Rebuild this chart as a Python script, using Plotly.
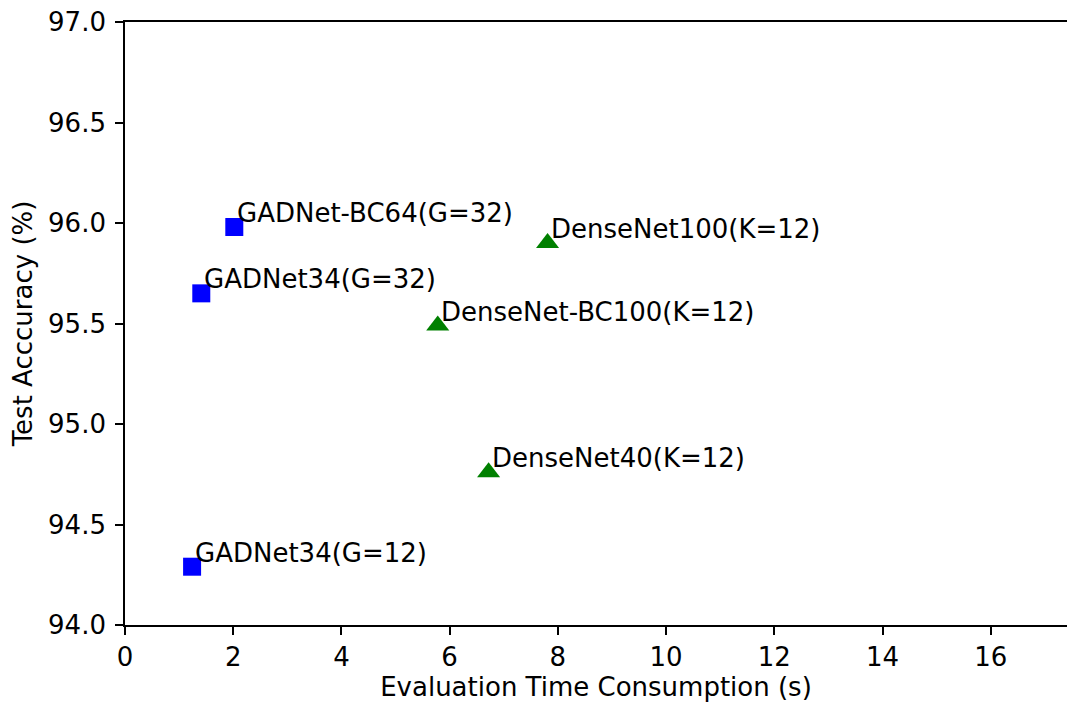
import plotly.graph_objects as go

gad_names = ["GADNet-BC64(G=32)", "GADNet34(G=32)", "GADNet34(G=12)"]
gad_time = [2.02, 1.41, 1.24]
gad_acc = [95.98, 95.65, 94.29]

dense_names = ["DenseNet100(K=12)", "DenseNet-BC100(K=12)", "DenseNet40(K=12)"]
dense_time = [7.81, 5.78, 6.72]
dense_acc = [95.90, 95.49, 94.76]

x_ticks = [0, 2, 4, 6, 8, 10, 12, 14, 16]
y_ticks = [94.0, 94.5, 95.0, 95.5, 96.0, 96.5, 97.0]

FONT = "DejaVu Sans"
FS = 26
fig = go.Figure()
fig.add_trace(go.Scatter(x=gad_time, y=gad_acc, mode="markers",
                         marker=dict(symbol="square", size=18, color="blue"), showlegend=False))
fig.add_trace(go.Scatter(x=dense_time, y=dense_acc, mode="markers",
                         marker=dict(symbol="triangle-up", size=20, color="green"), showlegend=False))

for n, x, y in list(zip(gad_names, gad_time, gad_acc)) + list(zip(dense_names, dense_time, dense_acc)):
    fig.add_annotation(x=x, y=y, text=n, showarrow=False, xanchor="left", yanchor="bottom",
                       xshift=1, yshift=-3, font=dict(family=FONT, size=FS, color="black"))

fig.update_layout(
    width=1067, height=704,
    margin=dict(l=125, r=0, t=22, b=79),
    plot_bgcolor="white", paper_bgcolor="white",
    font=dict(family=FONT, size=FS, color="black"),
)
fig.update_xaxes(range=[0, 17.41], tickvals=x_ticks, ticktext=[str(v) for v in x_ticks],
                 tickfont=dict(family=FONT, size=FS, color="black"),
                 showline=True, linecolor="black", linewidth=1.7, mirror=True,
                 ticks="outside", ticklen=8, tickwidth=1.6, tickcolor="black",
                 showgrid=False, zeroline=False, automargin=False,
                 title=dict(text="Evaluation Time Consumption (s)", standoff=6,
                            font=dict(family=FONT, size=FS, color="black")))
fig.update_yaxes(range=[94.0, 97.0], tickvals=y_ticks, ticktext=[f"{v:.1f}" for v in y_ticks],
                 tickfont=dict(family=FONT, size=FS, color="black"),
                 ticklabelstandoff=4,
                 showline=True, linecolor="black", linewidth=1.7,
                 ticks="outside", ticklen=8, tickwidth=1.6, tickcolor="black",
                 showgrid=False, zeroline=False, automargin=False,
                 title=dict(text="Test Acccuracy (%)", standoff=8,
                            font=dict(family=FONT, size=FS, color="black")))
fig.write_html("out.html", config={"displayModeBar": False},
               post_script="document.body.style.margin='0';document.body.style.overflow='hidden';")
